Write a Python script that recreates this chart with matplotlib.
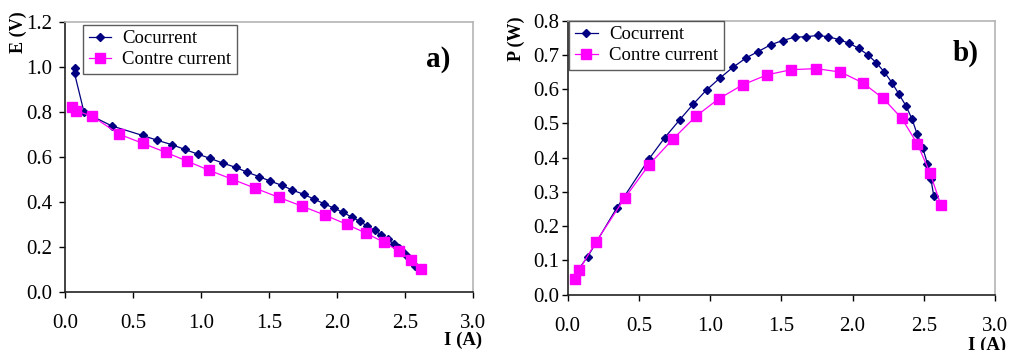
import numpy as np
import matplotlib
matplotlib.use("Agg")
import matplotlib.pyplot as plt

plt.rcParams['font.family'] = ['Liberation Serif', 'DejaVu Serif']

# ----------------------------
# Data
# ----------------------------
I_co = [0.07, 0.07, 0.14, 0.345, 0.57, 0.68, 0.785, 0.88, 0.975, 1.067, 1.16, 1.255,
        1.337, 1.427, 1.508, 1.595, 1.672, 1.755, 1.83, 1.903, 1.976, 2.044, 2.108,
        2.167, 2.223, 2.276, 2.326, 2.375, 2.417, 2.453, 2.492, 2.525, 2.55, 2.57]
E_co = [0.994, 0.972, 0.799, 0.738, 0.696, 0.674, 0.655, 0.634, 0.613, 0.594, 0.573,
        0.554, 0.533, 0.513, 0.493, 0.474, 0.453, 0.434, 0.413, 0.393, 0.373, 0.354,
        0.333, 0.314, 0.293, 0.274, 0.253, 0.234, 0.213, 0.194, 0.173, 0.154, 0.133, 0.114]
P_co = [0.073, 0.071, 0.111, 0.254, 0.396, 0.458, 0.510, 0.556, 0.598, 0.632, 0.664,
        0.692, 0.710, 0.730, 0.742, 0.752, 0.753, 0.757, 0.753, 0.745, 0.734, 0.719,
        0.700, 0.677, 0.650, 0.619, 0.585, 0.551, 0.513, 0.469, 0.429, 0.383, 0.337, 0.288]

I_cc = [0.05, 0.08, 0.20, 0.40, 0.57, 0.74, 0.90, 1.06, 1.23, 1.40, 1.57, 1.745,
        1.915, 2.07, 2.215, 2.345, 2.455, 2.545, 2.62]
E_cc = [0.824, 0.806, 0.781, 0.701, 0.661, 0.621, 0.581, 0.541, 0.501, 0.461, 0.421,
        0.381, 0.341, 0.301, 0.261, 0.221, 0.182, 0.142, 0.102]
P_cc = [0.045, 0.072, 0.155, 0.282, 0.379, 0.455, 0.521, 0.572, 0.613, 0.642, 0.657,
        0.660, 0.650, 0.619, 0.573, 0.515, 0.440, 0.354, 0.261]

x_ticks = [0.0, 0.5, 1.0, 1.5, 2.0, 2.5, 3.0]
e_ticks = [0.0, 0.2, 0.4, 0.6, 0.8, 1.0, 1.2]
p_ticks = [0.0, 0.1, 0.2, 0.3, 0.4, 0.5, 0.6, 0.7, 0.8]

NAVY = '#000080'
MAGENTA = '#ff00ff'

fig = plt.figure(figsize=(10.14, 3.5), dpi=100)
ax_a = fig.add_axes([0.0641, 0.1657, 0.4024, 0.7714])
ax_b = fig.add_axes([0.5599, 0.158, 0.4214, 0.7829])


def style_axes(ax, yticks, ypad):
    ax.set_xlim(0, 3.0)
    ax.set_ylim(yticks[0], yticks[-1])
    ax.set_xticks(x_ticks)
    ax.set_xticklabels([f"{v:.1f}" for v in x_ticks])
    ax.set_yticks(yticks)
    ax.set_yticklabels([f"{v:.1f}" for v in yticks])
    ax.tick_params(axis='x', direction='out', length=4, width=1, pad=12, labelsize=15)
    ax.tick_params(axis='y', direction='out', length=4, width=1, pad=ypad, labelsize=15)
    for s in ['left', 'bottom']:
        ax.spines[s].set_color('#222222')
        ax.spines[s].set_linewidth(1.2)
    for s in ['top', 'right']:
        ax.spines[s].set_color('#b4b4b4')
        ax.spines[s].set_linewidth(1.2)


def draw(ax, y_co, y_cc, anchor):
    ax.plot(I_co, y_co, color=NAVY, lw=0.9, marker='D', ms=4.2,
            mfc=NAVY, mec=NAVY, label='Cocurrent')
    ax.plot(I_cc, y_cc, color=MAGENTA, lw=0.9, marker='s', ms=7,
            mfc=MAGENTA, mec=MAGENTA, label='Contre current')
    leg = ax.legend(loc='upper left', bbox_to_anchor=anchor, fontsize=13.5,
                    frameon=True, fancybox=False, borderpad=0.3, labelspacing=0.2,
                    handlelength=1.2, handletextpad=0.6, borderaxespad=0.0)
    leg.get_frame().set_edgecolor('#333333')
    leg.get_frame().set_linewidth(1.0)


# ----------------------------
# a) E vs I
# ----------------------------
draw(ax_a, E_co, E_cc, (0.044, 0.99))
style_axes(ax_a, e_ticks, 5)
ax_a.text(0.885, 0.86, 'a)', transform=ax_a.transAxes, fontsize=21,
          fontweight='bold', ha='left', va='center')
fig.text(0.018, 0.907, 'E (V)', rotation=90, fontsize=13, fontweight='bold',
         ha='center', va='center')
fig.text(0.457, 0.028, 'I (A)', fontsize=13.5, fontweight='bold', ha='center', va='center')

# ----------------------------
# b) P vs I
# ----------------------------
draw(ax_b, P_co, P_cc, (0.004, 1.0))
style_axes(ax_b, p_ticks, 2)
ax_b.text(0.9, 0.88, 'b)', transform=ax_b.transAxes, fontsize=21,
          fontweight='bold', ha='left', va='center')
fig.text(0.509, 0.889, 'P (W)', rotation=90, fontsize=13, fontweight='bold',
         ha='center', va='center')
fig.text(0.973, 0.013, 'I (A)', fontsize=13.5, fontweight='bold', ha='center', va='center')

fig.savefig('out.png', dpi=100)
